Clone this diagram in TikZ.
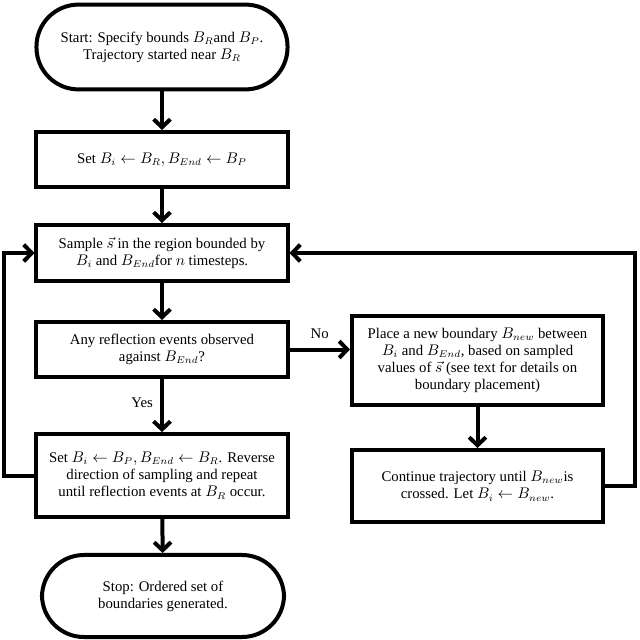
\documentclass[tikz,border=0pt]{standalone}
\usepackage{fontspec}
\setmainfont{Liberation Serif}
\usetikzlibrary{arrows.meta}
\begin{document}
\begin{tikzpicture}[x=0.025cm,y=-0.025cm,
  every node/.style={font=\fontsize{10.5}{12.2}\selectfont, align=center, inner sep=0pt},
  procbox/.style={draw, line width=0.1cm, minimum width=6.275cm},
  termbox/.style={draw, line width=0.1cm, rounded corners=1.05cm},
  conn/.style={line width=0.1cm, -{Straight Barb[length=0.2cm,width=0.42cm,line width=0.1cm]}},
  plainline/.style={line width=0.1cm}]
\useasboundingbox (0,0) rectangle (640,640);
\node[termbox, minimum width=6.275cm, minimum height=2.12cm] (start) at (162,47)
  {Start: Specify bounds $B_R$and $B_P$.\\ Trajectory started near $B_R$};
\node[procbox, minimum height=1.375cm] (set) at (162,159.5)
  {Set $B_i \leftarrow B_R, B_{End} \leftarrow B_P$};
\node[procbox, minimum height=1.4cm] (sample) at (162,253)
  {Sample $\vec{s}$ in the region bounded by\\ $B_i$ and $B_{End}$for $n$ timesteps.};
\node[procbox, minimum height=1.375cm] (refl) at (162,349.5)
  {Any reflection events observed\\ against $B_{End}$?};
\node[procbox, minimum height=2.07cm] (rev) at (162,475.5)
  {Set $B_i \leftarrow B_P, B_{End} \leftarrow B_R$. Reverse\\ direction of sampling and repeat\\ until reflection events at $B_R$ occur.};
\node[termbox, minimum width=6.05cm, minimum height=2.05cm] (stop) at (163,596)
  {Stop: Ordered set of\\ boundaries generated.};
\node[procbox, minimum height=2.225cm] (place) at (477.5,360.5)
  {Place a new boundary $B_{new}$ between\\ $B_i$ and $B_{End}$, based on sampled\\ values of $\vec{s}$ (see text for details on\\ boundary placement)};
\node[procbox, minimum height=1.8cm] (cont) at (477.5,486)
  {Continue trajectory until $B_{new}$is\\ crossed. Let $B_i \leftarrow B_{new}$.};
\coordinate (lb) at (4,475.5);
\coordinate (lt) at (4,253);
\coordinate (rb) at (635,486);
\coordinate (rt) at (635,253);
\draw[conn] (start) -- (set);
\draw[conn] (set) -- (sample);
\draw[conn] (sample) -- (refl);
\draw[conn] (refl) -- node[pos=0.45, left=5pt] {Yes} (rev);
\draw[conn] (rev) -- (stop);
\draw[conn] (refl.east) -- node[above=6pt] {No} (refl.east -| place.west);
\draw[conn] (place) -- (cont);
\draw[conn] (rev.west) -- (lb) -- (lt) -- (sample.west);
\draw[conn] (cont.east) -- (rb) -- (rt) -- (sample.east);
\end{tikzpicture}
\end{document}
